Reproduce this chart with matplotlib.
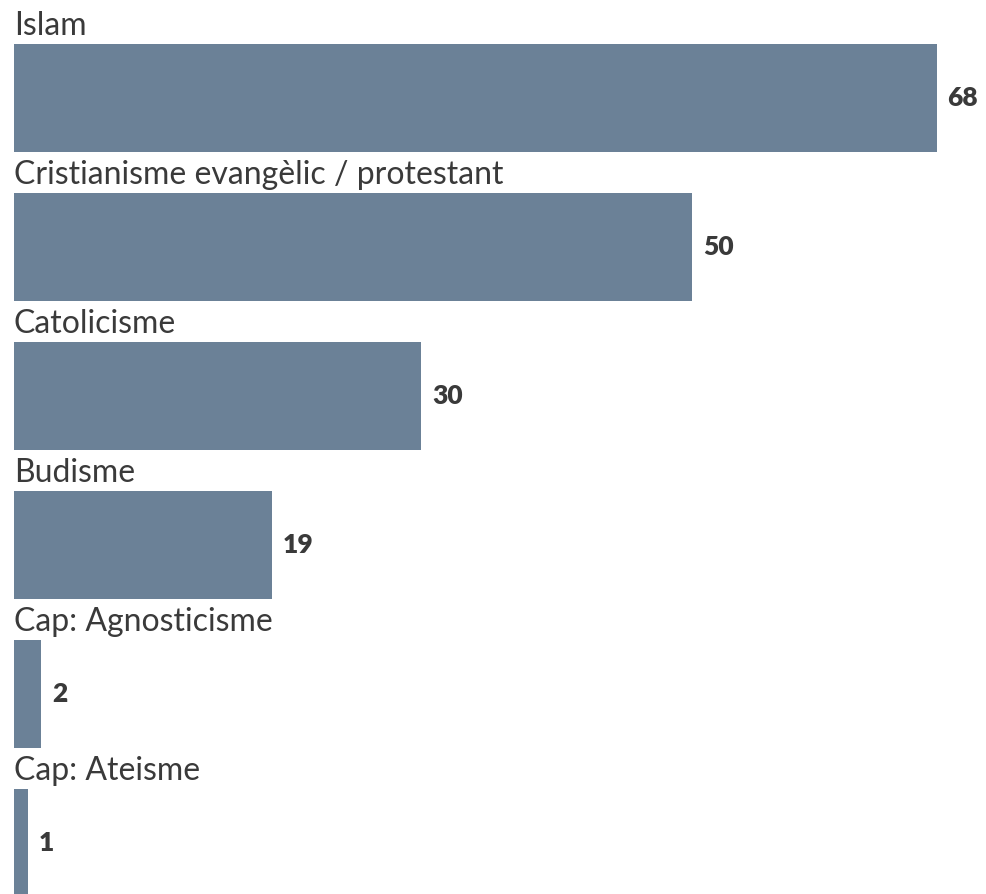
import matplotlib.pyplot as plt

# Dades
religions = ["Islam", "Cristianisme evangèlic / protestant", "Catolicisme",
             "Budisme", "Cap: Agnosticisme", "Cap: Ateisme"]
valors = [68, 50, 30, 19, 2, 1]

color_barra = "#6b8197"
color_text = "#3a3a3a"

fig = plt.figure(figsize=(9.87, 8.94), dpi=100)
ax = fig.add_axes([14 / 987, 0, 973 / 987, 1])

pos = list(range(len(religions)))
alt = 0.725
ax.barh(pos, valors, height=alt, color=color_barra)

for i, (nom, v) in enumerate(zip(religions, valors)):
    # etiqueta sobre la barra
    ax.text(0, i - alt / 2 - 0.06, nom, ha="left", va="baseline",
            fontsize=23, color=color_text, family="Lato")
    # valor a la dreta
    ax.text(v + 0.8, i, str(v), ha="left", va="center",
            fontsize=19, fontweight="heavy", color=color_text, family="Lato")

ax.set_xlim(0, 973 / 13.57)
ax.set_ylim(5.342, -0.658)
ax.axis("off")

fig.savefig("out.png", dpi=100, facecolor="white")
